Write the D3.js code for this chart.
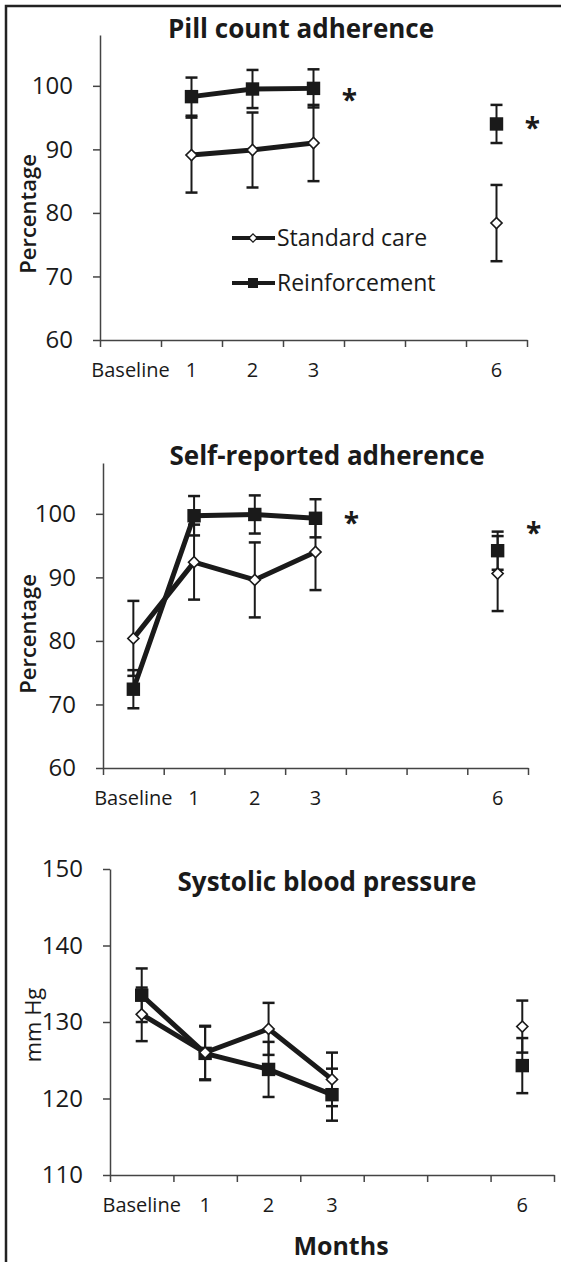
<!DOCTYPE html>
<html>
<head>
<meta charset="utf-8">
<script src="https://cdn.jsdelivr.net/npm/d3@7"></script>
<style>
  body { margin: 0; background: #fff; }
  svg { display: block; }
</style>
</head>
<body>
<script>
// categories on the x axis (months 4 and 5 have no label and no data)
const months = ["Baseline", "1", "2", "3", "4", "5", "6"];
const monthLabels = ["Baseline", "1", "2", "3", "", "", "6"];
const seriesNames = ["Standard care", "Reinforcement"];

// Pill count adherence (%), mean and error
const pillStandard = [null, 89.1, 89.9, 91.0, null, null, 78.4];
const pillStandardErr = [null, 5.9, 5.9, 6.0, null, null, 6.0];
const pillReinf = [null, 98.3, 99.5, 99.6, null, null, 94.0];
const pillReinfErr = [null, 3.0, 3.0, 3.0, null, null, 3.0];

// Self-reported adherence (%)
const selfStandard = [80.4, 92.4, 89.6, 94.0, null, null, 90.6];
const selfStandardErr = [5.9, 5.9, 5.9, 6.0, null, null, 5.9];
const selfReinf = [72.4, 99.7, 99.9, 99.3, null, null, 94.2];
const selfReinfErr = [3.0, 3.1, 3.0, 3.0, null, null, 3.0];

// Systolic blood pressure (mm Hg)
const sbpStandard = [131.0, 126.0, 129.1, 122.5, null, null, 129.4];
const sbpStandardErr = [3.5, 3.5, 3.4, 3.5, null, null, 3.4];
const sbpReinf = [133.5, 125.9, 123.8, 120.5, null, null, 124.3];
const sbpReinfErr = [3.5, 3.5, 3.6, 3.4, null, null, 3.6];

// significance marks: month next to which the star sits, and height in axis units
const pillStars = [{month: "3", value: 98.6}, {month: "6", value: 94.2}];
const selfStars = [{month: "3", value: 99.4}, {month: "6", value: 97.8}];

const pctTicks = [60, 70, 80, 90, 100];
const sbpTicks = [110, 120, 130, 140, 150];

const FONT = "'Open Sans', 'Liberation Sans', sans-serif";
const INK = "#1a1a1a";

const svg = d3.select("body").append("svg")
    .attr("width", 561)
    .attr("height", 1262);

// frame of the figure (left and top edges)
svg.append("path")
    .attr("d", "M6,1262V6H561")
    .attr("fill", "none")
    .attr("stroke", "#222")
    .attr("stroke-width", 2.5);

function series(vals, errs) {
    return months.map((m, i) => ({m: m, v: vals[i], e: errs[i]}));
}

const panels = [
    {
        title: "Pill count adherence", titleX: 301, titleY: 29,
        yLabel: "Percentage", yLabelX: 28, yLabelY: 214, yLabelWeight: 600,
        x0: 100, x1: 527, yBottom: 340, yTop: 35,
        yDomain: [60, 108], yTicks: pctTicks,
        standard: series(pillStandard, pillStandardErr),
        reinf: series(pillReinf, pillReinfErr),
        stars: pillStars, legend: true
    },
    {
        title: "Self-reported adherence", titleX: 327, titleY: 456,
        yLabel: "Percentage", yLabelX: 28, yLabelY: 634, yLabelWeight: 600,
        x0: 103, x1: 528, yBottom: 768, yTop: 463,
        yDomain: [60, 108], yTicks: pctTicks,
        standard: series(selfStandard, selfStandardErr),
        reinf: series(selfReinf, selfReinfErr),
        stars: selfStars, legend: false
    },
    {
        title: "Systolic blood pressure", titleX: 327, titleY: 882,
        yLabel: "mm Hg", yLabelX: 33, yLabelY: 1025, yLabelWeight: 400,
        x0: 110, x1: 554, yBottom: 1175, yTop: 869,
        yDomain: [110, 150], yTicks: sbpTicks,
        standard: series(sbpStandard, sbpStandardErr),
        reinf: series(sbpReinf, sbpReinfErr),
        stars: [], legend: false
    }
];

const square = d3.symbol().type(d3.symbolSquare).size(180);
const diamond = d3.symbol().type(d3.symbolSquare).size(62);

function drawPanel(p) {
    const x = d3.scaleBand().domain(months).range([p.x0, p.x1]);
    const edges = d3.scaleLinear().domain([0, months.length]).range([p.x0, p.x1]);
    const y = d3.scaleLinear().domain(p.yDomain).range([p.yBottom, p.yTop]);
    const cx = m => x(m) + x.bandwidth() / 2;

    const g = svg.append("g");

    // y axis
    const ya = g.append("g")
        .attr("transform", `translate(${p.x0},0)`)
        .call(d3.axisLeft(y).tickValues(p.yTicks).tickSize(7).tickSizeOuter(0).tickPadding(20));
    ya.attr("font-family", FONT).attr("font-size", 24);
    ya.selectAll("text").attr("fill", INK);

    // x axis: tick marks between categories
    g.append("g")
        .attr("transform", `translate(0,${p.yBottom})`)
        .call(d3.axisBottom(edges).tickValues(d3.range(months.length + 1)).tickSize(7).tickSizeOuter(0).tickFormat(""));

    // x labels centred on categories
    const xl = g.append("g")
        .attr("transform", `translate(0,${p.yBottom})`)
        .call(d3.axisBottom(x).tickSize(0).tickPadding(23).tickFormat((d, i) => monthLabels[i]));
    xl.select(".domain").remove();
    xl.attr("font-family", FONT).attr("font-size", 20);
    xl.selectAll("text").attr("fill", INK);

    g.selectAll(".domain, .tick line")
        .attr("stroke", "#444")
        .attr("stroke-width", 1.5);

    // title
    g.append("text")
        .attr("x", p.titleX)
        .attr("y", p.titleY)
        .attr("dy", "0.35em")
        .attr("text-anchor", "middle")
        .attr("font-family", FONT)
        .attr("font-weight", 700)
        .attr("font-size", 26)
        .attr("fill", INK)
        .text(p.title);

    // y label
    g.append("text")
        .attr("transform", `translate(${p.yLabelX},${p.yLabelY}) rotate(-90)`)
        .attr("dy", "0.35em")
        .attr("text-anchor", "middle")
        .attr("font-family", FONT)
        .attr("font-weight", p.yLabelWeight)
        .attr("font-size", 22)
        .attr("fill", INK)
        .text(p.yLabel);

    const both = [p.standard, p.reinf];

    // error bars
    both.forEach(s => {
        const pts = s.filter(d => d.v != null);
        const eb = g.append("g").attr("stroke", INK).attr("stroke-width", 2);
        eb.selectAll(".bar").data(pts).join("line")
            .attr("class", "bar")
            .attr("x1", d => cx(d.m)).attr("x2", d => cx(d.m))
            .attr("y1", d => y(d.v - d.e)).attr("y2", d => y(d.v + d.e));
        eb.selectAll(".capTop").data(pts).join("line")
            .attr("class", "capTop")
            .attr("x1", d => cx(d.m) - 6).attr("x2", d => cx(d.m) + 6)
            .attr("y1", d => y(d.v + d.e)).attr("y2", d => y(d.v + d.e))
            .attr("stroke-width", 2.5);
        eb.selectAll(".capBot").data(pts).join("line")
            .attr("class", "capBot")
            .attr("x1", d => cx(d.m) - 6).attr("x2", d => cx(d.m) + 6)
            .attr("y1", d => y(d.v - d.e)).attr("y2", d => y(d.v - d.e))
            .attr("stroke-width", 2.5);
    });

    // connecting lines
    const line = d3.line()
        .defined(d => d.v != null)
        .x(d => cx(d.m))
        .y(d => y(d.v));

    both.forEach(s => {
        g.append("path")
            .datum(s)
            .attr("fill", "none")
            .attr("stroke", INK)
            .attr("stroke-width", 5)
            .attr("d", line);
    });

    // markers
    g.selectAll(".sq").data(p.reinf.filter(d => d.v != null)).join("path")
        .attr("class", "sq")
        .attr("transform", d => `translate(${cx(d.m)},${y(d.v)})`)
        .attr("d", square)
        .attr("fill", INK);

    g.selectAll(".dm").data(p.standard.filter(d => d.v != null)).join("path")
        .attr("class", "dm")
        .attr("transform", d => `translate(${cx(d.m)},${y(d.v)}) rotate(45)`)
        .attr("d", diamond)
        .attr("fill", "#fff")
        .attr("stroke", INK)
        .attr("stroke-width", 1.6);

    // stars
    g.selectAll(".star").data(p.stars).join("text")
        .attr("class", "star")
        .attr("x", d => cx(d.month) + 36)
        .attr("y", d => y(d.value))
        .attr("dy", "0.55em")
        .attr("text-anchor", "middle")
        .attr("font-family", FONT)
        .attr("font-weight", 700)
        .attr("font-size", 28)
        .attr("fill", INK)
        .text("*");

    if (p.legend) {
        const lg = g.append("g").attr("transform", "translate(232,238)");
        const items = lg.selectAll("g").data(seriesNames).join("g")
            .attr("transform", (d, i) => `translate(0,${i * 45})`);
        items.append("line")
            .attr("x1", 0).attr("x2", 43)
            .attr("stroke", INK).attr("stroke-width", 4);
        items.append("path")
            .attr("transform", (d, i) => i === 0 ? "translate(21,0) rotate(45)" : "translate(21,0)")
            .attr("d", (d, i) => i === 0 ? d3.symbol().type(d3.symbolSquare).size(34)() : d3.symbol().type(d3.symbolSquare).size(100)())
            .attr("fill", (d, i) => i === 0 ? "#fff" : INK)
            .attr("stroke", INK)
            .attr("stroke-width", (d, i) => i === 0 ? 1.4 : 0);
        items.append("text")
            .attr("x", 45)
            .attr("dy", "0.35em")
            .attr("font-family", FONT)
            .attr("font-size", 23)
            .attr("fill", INK)
            .text(d => d);
    }
}

panels.forEach(drawPanel);

// shared x axis title
svg.append("text")
    .attr("x", 341)
    .attr("y", 1246)
    .attr("dy", "0.35em")
    .attr("text-anchor", "middle")
    .attr("font-family", FONT)
    .attr("font-weight", 700)
    .attr("font-size", 25)
    .attr("fill", INK)
    .text("Months");
</script>
</body>
</html>
